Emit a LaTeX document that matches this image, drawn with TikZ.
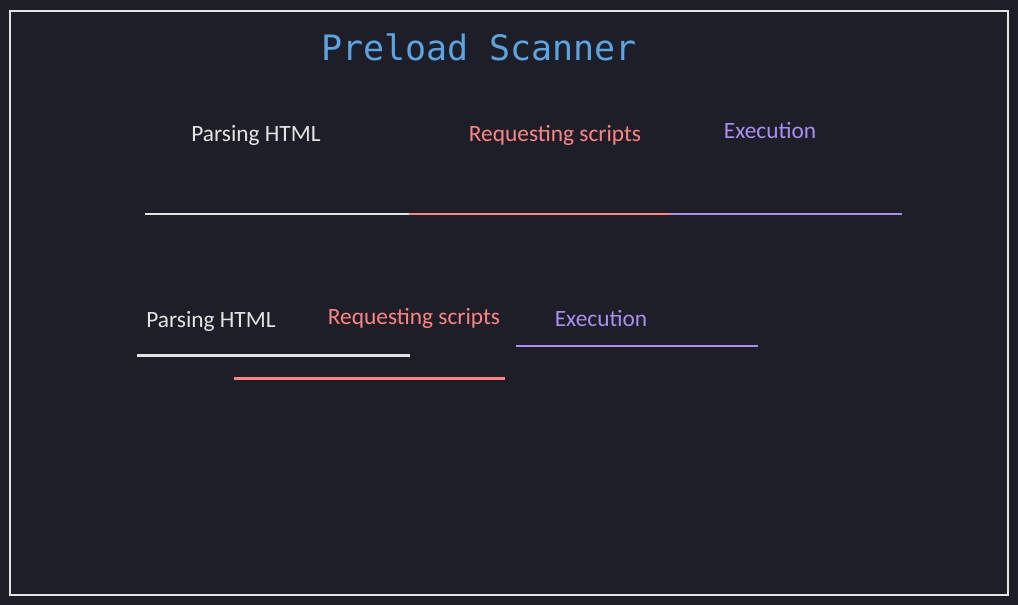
\documentclass[tikz,border=0pt]{standalone}
\usepackage{fontspec}
\setmainfont{Carlito}
\newfontfamily\titlefont{DejaVu Sans Mono}
\usetikzlibrary{calc}
\definecolor{canvas}{RGB}{30,30,40}
\definecolor{chalk}{RGB}{228,228,228}
\definecolor{skyblue}{RGB}{92,164,226}
\definecolor{salmon}{RGB}{255,132,132}
\definecolor{lilac}{RGB}{172,142,242}

\begin{document}
\begin{tikzpicture}[x=0.02cm,y=-0.02cm,
  phase/.style={font=\fontsize{13.3}{15}\selectfont, inner sep=0pt},
  bar/.style={line width=1.2pt}]
\fill [canvas] (0,0) rectangle (1018,605);
\useasboundingbox (0,0) rectangle (1018,605);
\draw [chalk, line width=0.9pt] (10,11) rectangle (1008,595);
\node [font=\titlefont\fontsize{19.9}{22}\selectfont, text=skyblue, inner sep=0pt] (title) at (479,47) {Preload Scanner};
% blocking: one after another
\node [phase, text=chalk] (parseA) at (256,135) {Parsing HTML};
\node [phase, text=salmon] (requestA) at (555,135) {Requesting scripts};
\node [phase, text=lilac] (executeA) at (770,131) {Execution};
\coordinate (a0) at (145,214);
\coordinate (a1) at (409,214);
\coordinate (a2) at (670,214);
\coordinate (a3) at (902,214);
\draw [bar, chalk] (a0) -- (a1);
\draw [bar, salmon] (a1) -- (a2);
\draw [bar, lilac] (a2) -- (a3);
% with the scanner: requests overlap parsing
\node [phase, text=chalk] (parseB) at (211,321) {Parsing HTML};
\node [phase, text=salmon] (requestB) at (414,318) {Requesting scripts};
\node [phase, text=lilac] (executeB) at (601,319) {Execution};
\coordinate (b0) at (137,355.5);
\coordinate (b1) at (410,355.5);
\coordinate (c0) at (234,378.5);
\coordinate (c1) at (505,378.5);
\coordinate (d0) at (516,346);
\coordinate (d1) at (758,346);
\draw [bar, chalk] (b0) -- (b1);
\draw [bar, salmon] (c0) -- (c1);
\draw [bar, lilac] (d0) -- (d1);
\end{tikzpicture}
\end{document}
